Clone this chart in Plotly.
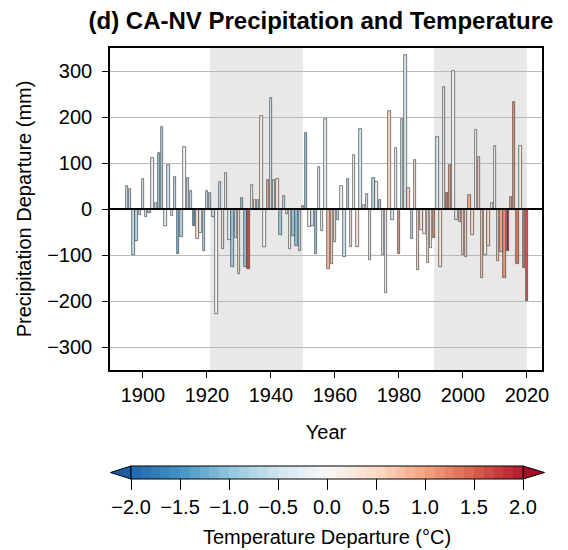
import plotly.graph_objects as go

years = list(range(1895, 2021))

precip_mm = [
    50, 43, -99, -70, -13, 66, -18, -9, 111, 12,          # 1895-1904
    121, 178, -38, 96, -16, 69, -98, -61, 134, 68,        # 1905-1914
    40, -36, -65, -53, -91, 40, 34, -17, -229, 59,        # 1915-1924
    -86, 78, -67, -127, -64, -141, 23, -127, -130, 52,    # 1925-1934
    19, 19, 203, -83, 62, 242, 64, 65, -57, 29,           # 1935-1944
    -11, -87, -59, -81, -91, 7, 166, -40, -36, -98,       # 1945-1954
    91, -48, 196, -130, -120, -72, -24, 49, -104, 65,     # 1955-1964
    -83, 117, -83, 173, 8, 33, -110, 67, 59, 19,          # 1965-1974
    -101, -183, 212, -24, 132, -98, 196, 335, 45, -65,    # 1975-1984
    107, -133, -46, -54, -118, -85, -62, 157, -126, 265,  # 1985-1994
    34, 96, 299, -24, -28, -99, -104, 30, -56, 172,       # 1995-2004
    114, -150, -101, -81, 12, 136, -114, -94, -150, -91,  # 2005-2014
    27, 232, -120, 136, -128, -201,                       # 2015-2020
]

temp_c = [
    -0.5, -0.6, -0.7, -0.8, -0.4, -0.4, -0.3, -1.0, -0.2, -0.3,   # 1895-1904
    -1.0, -0.8, -0.2, -0.6, -0.3, -0.7, -1.2, -0.8, -0.1, -0.6,   # 1905-1914
    -0.6, -1.5, 0.4, -0.2, -0.8, -0.6, -0.7, -0.7, -0.1, -0.6,    # 1915-1924
    0.4, -0.2, -0.3, -1.0, -0.4, 0.4, -0.9, -1.1, 1.7, 0.0,       # 1925-1934
    0.3, -0.7, 0.2, -0.1, 0.9, -0.5, -0.5, 0.3, -0.9, -0.6,       # 1935-1944
    -0.2, -0.1, -1.0, -1.1, -0.6, 0.8, -0.9, -0.1, -0.4, -1.0,    # 1945-1954
    -0.2, -0.1, -0.2, 0.8, 0.6, 0.4, -0.6, -0.1, -0.6, -0.8,      # 1955-1964
    0.4, -0.1, 0.3, -0.4, 0.0, -0.5, -0.3, -0.8, 0.2, -0.8,       # 1965-1974
    -0.3, 0.0, 0.6, -0.5, 0.0, 1.2, -0.5, -0.4, 0.5, -0.7,        # 1975-1984
    0.5, 0.5, 0.3, 0.2, 0.4, 0.1, 1.1, -0.4, 0.4, -0.2,           # 1985-1994
    1.3, 1.0, -0.1, -0.4, 0.8, 0.5, 0.6, 0.9, 0.6, 0.1,           # 1995-2004
    0.6, 0.7, 0.2, 0.6, -0.1, 0.1, 0.7, 0.9, 1.2, 1.9,            # 2005-2014
    1.0, 1.2, 1.3, 0.3, 1.3, 1.5,                                 # 2015-2020
]

shade_periods = [(1921, 1950), (1991, 2020)]
x_ticks = [1900, 1920, 1940, 1960, 1980, 2000, 2020]
y_ticks = [-300, -200, -100, 0, 100, 200, 300]
cbar_ticks = [-2.0, -1.5, -1.0, -0.5, 0.0, 0.5, 1.0, 1.5, 2.0]
cbar_ticktext = ["\u22122.0", "\u22121.5", "\u22121.0", "\u22120.5", "0.0", "0.5", "1.0", "1.5", "2.0"]

# RdBu_r-like base stops
base_stops = [
    (-2.0, (33, 102, 172)), (-1.5, (67, 147, 195)), (-1.0, (146, 197, 222)),
    (-0.5, (209, 229, 240)), (0.0, (247, 247, 247)), (0.5, (253, 219, 199)),
    (1.0, (244, 165, 130)), (1.5, (214, 96, 77)), (2.0, (178, 24, 43)),
]


def interp_color(v):
    v = max(-2.0, min(2.0, v))
    for (v0, c0), (v1, c1) in zip(base_stops[:-1], base_stops[1:]):
        if v0 <= v <= v1:
            t = (v - v0) / (v1 - v0)
            return tuple(round(a + (b - a) * t) for a, b in zip(c0, c1))
    return base_stops[-1][1]


nbins = 40
colorscale = []
for i in range(nbins):
    lo = i / nbins
    hi = (i + 1) / nbins
    center = -2.0 + 4.0 * (i + 0.5) / nbins
    r, g, b = interp_color(center)
    col = f"rgb({r},{g},{b})"
    colorscale.append([lo, col])
    colorscale.append([hi, col])

# page is offset by the 8px body margin; plot area spans page x 110-542, y 48-370
FIG_W, FIG_H = 560, 542


def px(xp):
    return (xp - 110) / 432.0


def py(yp):
    return (370 - yp) / 322.0


fig = go.Figure()
fig.add_trace(go.Bar(
    x=years, y=precip_mm, width=0.72,
    marker=dict(
        color=temp_c, colorscale=colorscale, cmin=-2, cmax=2,
        line=dict(color="rgb(70,70,70)", width=0.7),
        showscale=True,
        colorbar=dict(
            orientation="h", x=px(327), xanchor="center",
            y=py(466), yanchor="top", thickness=13,
            len=392, lenmode="pixels", xpad=0, ypad=0,
            outlinewidth=1, outlinecolor="black",
            ticks="outside", ticklen=11, tickcolor="black", tickwidth=1,
            tickvals=cbar_ticks, ticktext=cbar_ticktext,
            tickfont=dict(size=20, color="black"),
        ),
    ),
    hoverinfo="x+y",
))

shapes = []
for a, b in shade_periods:
    shapes.append(dict(type="rect", xref="x", yref="paper", x0=a, x1=b, y0=0, y1=1,
                       fillcolor="rgb(232,232,232)", line=dict(width=0), layer="below"))
shapes.append(dict(type="line", xref="paper", yref="y", x0=0, x1=1, y0=0, y1=0,
                   line=dict(color="black", width=2), layer="above"))

shapes.append(dict(type="path", xref="paper", yref="paper",
                   path=f"M {px(131)} {py(466)} L {px(110.5)} {py(472.5)} L {px(131)} {py(479)} Z",
                   fillcolor="rgb(28,92,160)", line=dict(color="black", width=1), layer="above"))
shapes.append(dict(type="path", xref="paper", yref="paper",
                   path=f"M {px(523)} {py(466)} L {px(544.5)} {py(472.5)} L {px(523)} {py(479)} Z",
                   fillcolor="rgb(165,15,38)", line=dict(color="black", width=1), layer="above"))
for v in cbar_ticks[1:-1]:
    xx = 327 + v * 98
    shapes.append(dict(type="line", xref="paper", yref="paper", x0=px(xx), x1=px(xx),
                       y0=py(466), y1=py(479), line=dict(color="black", width=1), layer="above"))

annotations = [dict(text="Temperature Departure (\u00b0C)", xref="paper", yref="paper",
                    x=px(327), y=py(537), xanchor="center", yanchor="middle",
                    showarrow=False, font=dict(size=20, color="black"))]

fig.update_layout(
    width=FIG_W, height=FIG_H,
    margin=dict(l=102, r=26, t=40, b=180),
    paper_bgcolor="white", plot_bgcolor="white",
    font=dict(family="Liberation Sans, Arial, sans-serif", color="black", size=20),
    title=dict(text="<b>(d) CA-NV Precipitation and Temperature</b>",
               x=(321 - 8) / FIG_W, xanchor="center", yref="container",
               y=1 - (21 - 8) / FIG_H, yanchor="middle",
               font=dict(size=24, color="black")),
    shapes=shapes,
    annotations=annotations,
    showlegend=False,
    bargap=0,
)
fig.update_xaxes(
    range=[1889.7, 2024.7], tickvals=x_ticks, ticks="outside", ticklen=6, tickwidth=1.2,
    tickcolor="black", showline=True, linecolor="black", linewidth=1.6, mirror=True,
    showgrid=False, zeroline=False, tickfont=dict(size=20),
    title=dict(text="Year", font=dict(size=20), standoff=20),
)
fig.update_yaxes(
    range=[-350, 350], tickvals=y_ticks, ticks="outside", ticklen=6, tickwidth=1.2,
    tickcolor="black", showline=True, linecolor="black", linewidth=1.6, mirror=True,
    showgrid=True, gridcolor="rgb(185,185,185)", gridwidth=1, zeroline=False,
    tickfont=dict(size=20), ticklabelstandoff=6,
    title=dict(text="Precipitation Departure (mm)", font=dict(size=20), standoff=10),
)

fig.write_html("out.html")
